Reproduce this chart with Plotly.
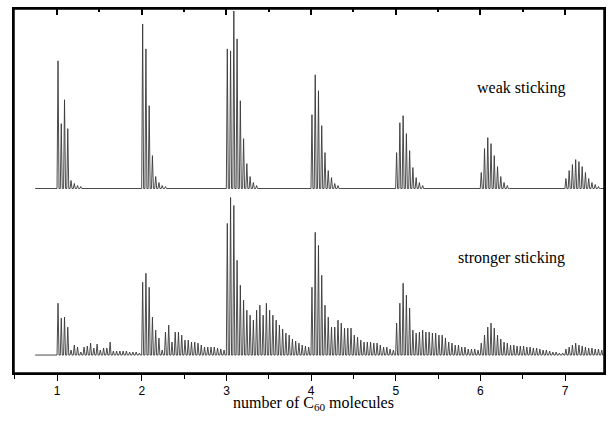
import plotly.graph_objects as go

# ---------------- data ----------------
# peak grid: peaks of each cluster n sit at n + offset + k*spacing
peak_spacing = 1 / 26
peak_offset = 0.01
x_first = 0.74
x_last = 7.46

# baselines (arbitrary intensity units; axis 0..365)
weak_baseline = 185
strong_baseline = 18

# "weak sticking" peak heights above baseline, per cluster of n C60
weak_n1 = [128, 65, 89, 60, 8, 5, 3, 2]
weak_n2 = [165, 140, 83, 33, 12, 6, 3, 2]
weak_n3 = [140, 138, 178, 150, 88, 50, 25, 12, 6, 3]
weak_n4 = [74, 114, 98, 63, 36, 18, 11, 5, 3]
weak_n5 = [36, 66, 73, 55, 38, 21, 11, 6, 3]
weak_n6 = [16, 40, 51, 45, 33, 22, 12, 6, 3]
weak_n7 = [10, 18, 24, 29, 27, 22, 16, 10, 6, 4, 2]

# "stronger sticking" peak heights above baseline, per cluster of n C60
strong_n1 = [52, 37, 38, 28, 5, 10, 8, 3, 8, 9, 12, 7, 11, 5, 7, 7, 13, 4, 4, 4, 4, 4, 3, 3, 3, 2]
strong_n2 = [73, 82, 68, 38, 25, 17, 5, 23, 30, 13, 23, 23, 20, 15, 15, 13, 13, 12, 10, 8, 8, 8, 8, 7, 6, 5]
strong_n3 = [132, 158, 150, 95, 70, 55, 45, 40, 35, 45, 50, 40, 52, 45, 40, 35, 30, 26, 22, 20, 16, 14, 12, 10, 9, 8]
strong_n4 = [68, 123, 110, 80, 50, 38, 28, 28, 35, 32, 27, 27, 27, 20, 18, 15, 13, 13, 13, 12, 12, 10, 8, 8, 6, 5]
strong_n5 = [32, 52, 72, 60, 47, 25, 22, 23, 25, 23, 23, 22, 22, 20, 20, 17, 13, 12, 10, 10, 8, 8, 6, 6, 6, 5]
strong_n6 = [12, 20, 28, 32, 27, 20, 16, 13, 12, 10, 10, 9, 9, 9, 8, 8, 7, 7, 6, 5, 5, 4, 3, 3, 2, 2]
strong_n7 = [6, 8, 10, 12, 10, 9, 8, 7, 7, 6, 6, 5]

cluster_numbers = [1, 2, 3, 4, 5, 6, 7]
tick_values = [1, 2, 3, 4, 5, 6, 7]
tick_labels = ["1", "2", "3", "4", "5", "6", "7"]

weak_label = "weak sticking"
strong_label = "stronger sticking"
x_title = "number of C<sub>60</sub> molecules"

# ---------------- build stick spectra ----------------
def spectrum(clusters, baseline):
    xs = [x_first]
    ys = [baseline]
    for n, heights in zip(cluster_numbers, clusters):
        count = 26 if n < 7 else 12
        for k in range(count):
            h = heights[k] if k < len(heights) else 0
            p = n + peak_offset + k * peak_spacing
            xs += [p - peak_spacing * 0.3, p, p + peak_spacing * 0.3]
            ys += [baseline, baseline + h, baseline]
    xs += [x_last]
    ys += [baseline]
    return xs, ys

wx, wy = spectrum([weak_n1, weak_n2, weak_n3, weak_n4, weak_n5, weak_n6, weak_n7], weak_baseline)
sx, sy = spectrum([strong_n1, strong_n2, strong_n3, strong_n4, strong_n5, strong_n6, strong_n7], strong_baseline)

serif = '"Liberation Serif", "Times New Roman", Times, serif'
sans = '"Liberation Sans", Arial, sans-serif'

line_col = "#383838"
fig = go.Figure()
fig.add_trace(go.Scatter(x=wx, y=wy, mode="lines", line=dict(color=line_col, width=0.9),
                         showlegend=False, hoverinfo="skip"))
fig.add_trace(go.Scatter(x=sx, y=sy, mode="lines", line=dict(color=line_col, width=0.9),
                         showlegend=False, hoverinfo="skip"))
# invisible helper trace so the top tick axis is drawn
fig.add_trace(go.Scatter(x=[x_first], y=[weak_baseline], mode="lines", xaxis="x2",
                         line=dict(width=0), showlegend=False, hoverinfo="skip"))

xr = [0.49, 7.46]
fig.update_layout(
    width=613, height=423,
    margin=dict(l=14, r=7, t=8, b=50),
    paper_bgcolor="white", plot_bgcolor="white",
    xaxis=dict(range=xr, showgrid=False, zeroline=False, showline=True, linecolor="black",
               linewidth=1.5, mirror=True, ticks="outside", ticklen=6, tickwidth=1.2,
               tickcolor="black", tickvals=tick_values, ticktext=tick_labels,
               tickfont=dict(family=sans, size=12, color="black"),
               minor=dict(dtick=0.5, tick0=0.5, ticks="outside", ticklen=4, tickwidth=1.2,
                          tickcolor="black", showgrid=False)),
    xaxis2=dict(range=xr, overlaying="x", side="top", anchor="y", showgrid=False,
                zeroline=False, showline=True, linecolor="black", linewidth=1.5,
                ticks="inside", ticklen=6, tickwidth=1.5,
                tickcolor="black", tickvals=tick_values, showticklabels=False,
                minor=dict(dtick=0.5, tick0=0.5, ticks="inside", ticklen=3, tickwidth=1.5,
                           tickcolor="black", showgrid=False)),
    yaxis=dict(range=[0, 365], showgrid=False, zeroline=False, showline=True,
               linecolor="black", linewidth=1.5, mirror=True, ticks="", showticklabels=False),
    shapes=[dict(type="rect", xref="paper", yref="paper", x0=0, x1=1, y0=0, y1=1,
                 line=dict(color="black", width=1.5), layer="above")],
    annotations=[
        dict(x=7.02, y=286, xref="x", yref="y", text=weak_label, showarrow=False,
             xanchor="right", yanchor="middle",
             font=dict(family=serif, size=16, color="black")),
        dict(x=7.02, y=115, xref="x", yref="y", text=strong_label, showarrow=False,
             xanchor="right", yanchor="middle",
             font=dict(family=serif, size=16, color="black")),
        dict(x=0.507, y=-0.085, xref="paper", yref="paper", text=x_title, showarrow=False,
             xanchor="center", yanchor="middle",
             font=dict(family=serif, size=16, color="black")),
    ],
)
fig.write_html("out.html", config={"displayModeBar": False},
               post_script="document.body.style.margin='0';document.body.style.padding='0';document.documentElement.style.overflow='hidden';")
